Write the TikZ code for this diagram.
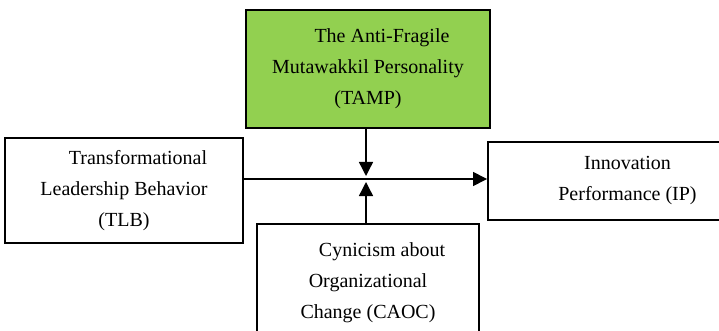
\documentclass[tikz,border=0pt]{standalone}
\usepackage{fontspec}
\setmainfont{Liberation Serif}
\usetikzlibrary{arrows.meta}
\definecolor{boxgreen}{HTML}{92D050}
\begin{document}
\begin{tikzpicture}[x=1pt,y=-1pt,
  varbox/.style={draw=black,line width=1.9pt,inner sep=0pt,align=center,
    font=\fontsize{20}{31}\selectfont},
  conn/.style={line width=1.4pt,-{Triangle[length=14pt,width=14pt]}}]
\useasboundingbox (0,0) rectangle (719,331);
\clip (0,0) rectangle (719,331);
\node[varbox,fill=boxgreen,minimum width=244pt,minimum height=118pt] (tamp) at (368,69)
  {\hspace*{28pt}The Anti-Fragile\\Mutawakkil Personality\\(TAMP)};
\node[varbox,minimum width=238pt,minimum height=105pt] (tlb) at (124,190.5)
  {\hspace*{28pt}Transformational\\Leadership Behavior\\(TLB)};
\node[varbox,minimum width=279pt,minimum height=78pt] (ip) at (627.5,181)
  {Innovation\\Performance (IP)};
\node[varbox,minimum width=222pt,minimum height=117pt] (caoc) at (368,282.5)
  {\hspace*{28pt}Cynicism about\\Organizational\\Change (CAOC)};
\coordinate (mt) at (366,176);
\coordinate (mb) at (366,182);
\coordinate (mh) at (366,179);
\draw[conn] (tlb.east |- mh) -- (ip.west |- mh);
\draw[conn] (tamp.south -| mt) -- (mt);
\draw[conn] (caoc.north -| mb) -- (mb);
\end{tikzpicture}
\end{document}
